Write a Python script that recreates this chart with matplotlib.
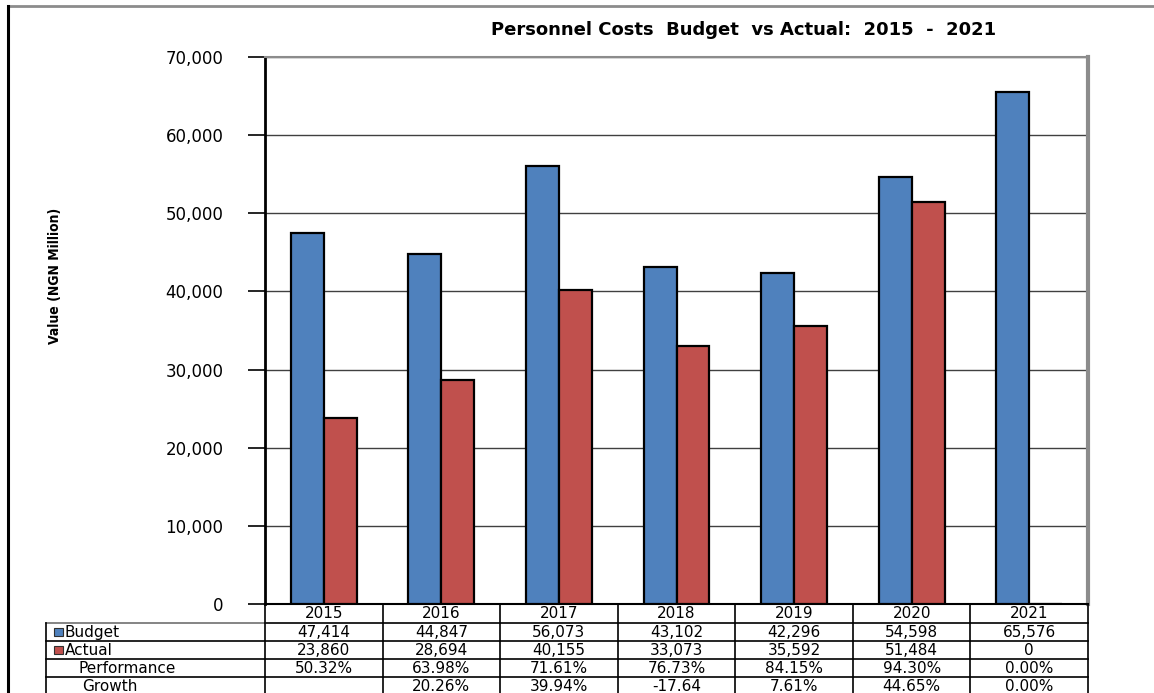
import matplotlib
matplotlib.use("Agg")
import matplotlib.pyplot as plt
from matplotlib.lines import Line2D
from matplotlib.patches import Rectangle

# ---- data ----
years = ["2015", "2016", "2017", "2018", "2019", "2020", "2021"]
budget = [47414, 44847, 56073, 43102, 42296, 54598, 65576]
actual = [23860, 28694, 40155, 33073, 35592, 51484, 0]
performance = ["50.32%", "63.98%", "71.61%", "76.73%", "84.15%", "94.30%", "0.00%"]
growth = ["", "20.26%", "39.94%", "-17.64", "7.61%", "44.65%", "0.00%"]
yticks = [0, 10000, 20000, 30000, 40000, 50000, 60000, 70000]

BLUE = "#4F81BD"
RED = "#C0504D"

W, H = 1154, 693
fig = plt.figure(figsize=(W / 100, H / 100), dpi=100)
fig.patch.set_facecolor("white")

# plot area in pixel coordinates
px_l, px_r, px_t, px_b = 265, 1088, 57, 604
ax = fig.add_axes([px_l / W, (H - px_b) / H, (px_r - px_l) / W, (px_b - px_t) / H])

n = len(years)
xs = list(range(n))
bw = 0.28
ax.bar([x - bw / 2 for x in xs], budget, width=bw, color=BLUE,
       edgecolor="black", linewidth=1.6, zorder=3)
ax.bar([x + bw / 2 for x in xs], actual, width=bw, color=RED,
       edgecolor="black", linewidth=1.6, zorder=3)

ax.set_xlim(-0.5, n - 0.5)
ax.set_ylim(0, 70000)
ax.set_yticks(yticks)
ax.set_yticklabels([f"{v:,}" for v in yticks], fontsize=12, family="DejaVu Sans")
ax.tick_params(axis="y", length=12, width=1.2, pad=18, color="black")
ax.set_xticks([])
ax.yaxis.grid(True, color="#404040", linewidth=1.0, zorder=0)

for side in ("top", "right"):
    ax.spines[side].set_color("#8c8c8c")
ax.spines["top"].set_linewidth(1.5)
ax.spines["right"].set_linewidth(3)
ax.spines["left"].set_linewidth(2)
ax.spines["bottom"].set_linewidth(1.5)

ax.set_ylabel("Value (NGN Million)", fontsize=10, fontweight="bold",
              fontstretch="condensed", family="DejaVu Sans")
ax.yaxis.set_label_coords((62 - px_l) / (px_r - px_l), 0.60)

# title
fig.text(744 / W, 1 - 30 / H, "Personnel Costs  Budget  vs Actual:  2015  -  2021",
         ha="center", va="center", fontsize=13, fontweight="bold",
         family="DejaVu Sans")

# ---- data table under the plot ----
def fy(ypx):
    return 1 - ypx / H

def fx(xpx):
    return xpx / W

line_kw = dict(color="black", linewidth=1.2, transform=fig.transFigure)
row_edges = [604, 623, 641, 659, 677, 695]
col_edges = [px_l + i * (px_r - px_l) / n for i in range(n + 1)]
tab_left = 46

# horizontal lines
fig.add_artist(Line2D([fx(px_l), fx(px_r)], [fy(623), fy(623)], **line_kw))
for y in row_edges[2:5]:
    fig.add_artist(Line2D([fx(tab_left), fx(px_r)], [fy(y), fy(y)], **line_kw))
fig.add_artist(Line2D([fx(tab_left), fx(px_l)], [fy(623), fy(623)],
                      color="#707070", linewidth=1.2, transform=fig.transFigure))
# vertical lines
for x in col_edges:
    fig.add_artist(Line2D([fx(x), fx(x)], [fy(604), fy(695)], **line_kw))
fig.add_artist(Line2D([fx(tab_left), fx(tab_left)], [fy(623), fy(695)], **line_kw))

cell_font = dict(fontsize=11, family="DejaVu Sans", va="center", ha="center")
rows = [
    [f"{v:,}" for v in budget],
    [f"{v:,}" for v in actual],
    performance,
    growth,
]
for i, yr in enumerate(years):
    cx = (col_edges[i] + col_edges[i + 1]) / 2
    fig.text(fx(cx), fy(614), yr, **cell_font)
    for r, vals in enumerate(rows):
        cy = (row_edges[r + 1] + row_edges[r + 2]) / 2 + 0.5
        fig.text(fx(cx), fy(cy), vals[i], **cell_font)

label_font = dict(fontsize=11, family="DejaVu Sans", va="center", ha="left")
row_labels = [("Budget", 65), ("Actual", 65), ("Performance", 78), ("Growth", 82)]
for r, (lab, xpx) in enumerate(row_labels):
    cy = (row_edges[r + 1] + row_edges[r + 2]) / 2 + 0.5
    fig.text(fx(xpx), fy(cy), lab, **label_font)

# legend keys in the table
for r, col in enumerate([BLUE, RED]):
    cy = (row_edges[r + 1] + row_edges[r + 2]) / 2
    fig.add_artist(Rectangle((fx(54), fy(cy + 4)), 9 / W, 8 / H, facecolor=col,
                             edgecolor="#303030", linewidth=0.8,
                             transform=fig.transFigure))

# outer chart frame
fig.add_artist(Line2D([fx(8), fx(W)], [fy(6), fy(6)], color="#8c8c8c",
                      linewidth=2, transform=fig.transFigure))
fig.add_artist(Line2D([fx(8), fx(8)], [fy(6), fy(H)], color="black",
                      linewidth=2.2, transform=fig.transFigure))

fig.savefig("out.png", dpi=100, facecolor="white")
